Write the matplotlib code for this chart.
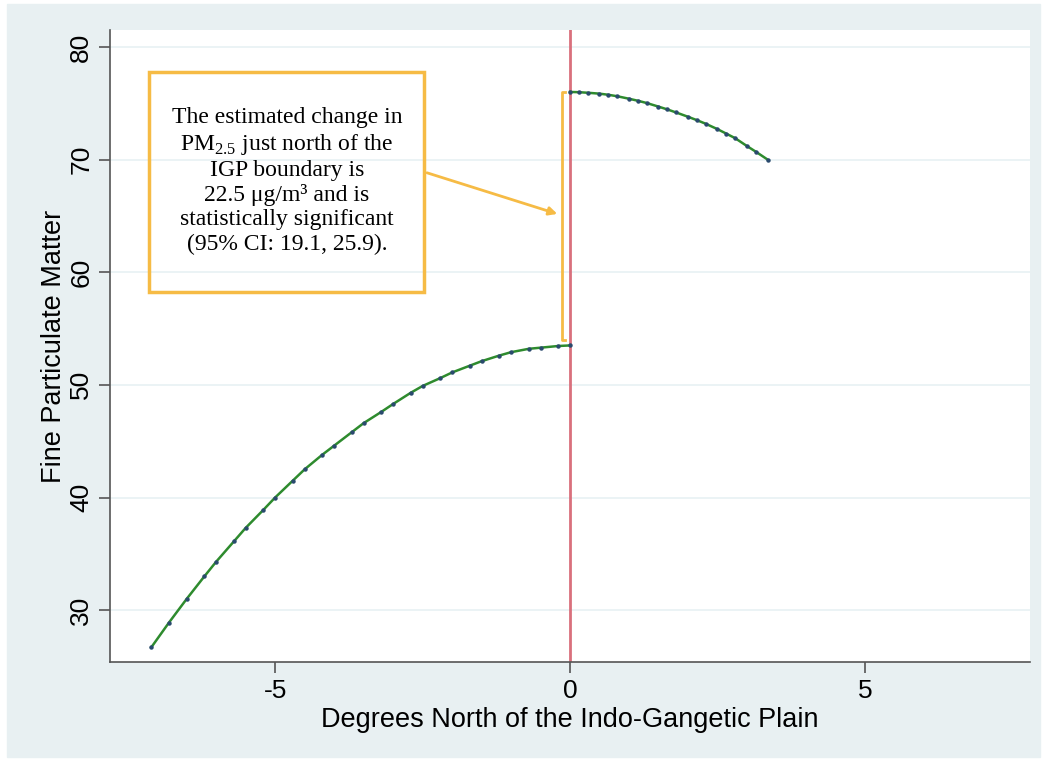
import numpy as np
import matplotlib.pyplot as plt
from matplotlib.patches import Rectangle

# fitted values south of the boundary (degrees north, PM2.5)
south_x = [-7.1, -6.8, -6.5, -6.2, -6.0, -5.7, -5.5, -5.2, -5.0, -4.7, -4.5, -4.2, -4.0,
           -3.7, -3.5, -3.2, -3.0, -2.7, -2.5, -2.2, -2.0, -1.7, -1.5, -1.2, -1.0,
           -0.7, -0.5, -0.2, 0.0]
south_y = [26.7, 28.9, 31.0, 33.0, 34.3, 36.1, 37.3, 38.9, 40.0, 41.5, 42.5, 43.8, 44.6,
           45.8, 46.6, 47.6, 48.3, 49.3, 49.9, 50.6, 51.1, 51.7, 52.1, 52.6, 52.9,
           53.2, 53.3, 53.45, 53.5]

# fitted values north of the boundary
north_x = [0.0, 0.15, 0.3, 0.5, 0.65, 0.8, 1.0, 1.15, 1.3, 1.5, 1.65, 1.8, 2.0, 2.15,
           2.3, 2.5, 2.65, 2.8, 3.0, 3.15, 3.35]
north_y = [76.0, 75.98, 75.93, 75.85, 75.75, 75.62, 75.4, 75.22, 75.02, 74.7, 74.45,
           74.18, 73.8, 73.5, 73.18, 72.7, 72.3, 71.9, 71.2, 70.7, 70.0]

jump_low, jump_high = 54.0, 76.0
box_text = ("The estimated change in\nPM$_\\mathrm{2.5}$ just north of the\nIGP boundary is\n"
            "22.5 \u03bcg/m\u00b3 and is\nstatistically significant\n(95% CI: 19.1, 25.9).")

plt.rcParams['font.family'] = ['Liberation Sans', 'DejaVu Sans']
plt.rcParams['mathtext.fontset'] = 'custom'
plt.rcParams['mathtext.rm'] = 'Liberation Serif'
plt.rcParams['axes.unicode_minus'] = False

orange = '#f6bb45'
fig = plt.figure(figsize=(10.47, 7.64), dpi=100, facecolor='white')
fig.patches.append(Rectangle((7 / 1047, 7 / 764), 1033 / 1047, 753 / 764,
                             transform=fig.transFigure, color='#e8f0f2', zorder=-10))
ax = fig.add_axes([110 / 1047, 1 - 662 / 764, 920 / 1047, 632 / 764])
ax.set_facecolor('white')

ax.set_xlim(-7.8, 7.8)
ax.set_ylim(25.4, 81.5)
ax.set_xticks([-5, 0, 5])
ax.set_yticks([30, 40, 50, 60, 70, 80])
ax.grid(axis='y', color='#e8f1f3', lw=1.2)
ax.set_axisbelow(True)
for s in ['top', 'right']:
    ax.spines[s].set_visible(False)
for s in ['left', 'bottom']:
    ax.spines[s].set_color('#555555')
    ax.spines[s].set_linewidth(1.2)
ax.tick_params(length=8, width=1.2, color='#555555', labelsize=19, pad=4)
for lab in ax.get_yticklabels():
    lab.set_rotation(90)
    lab.set_va('center')
ax.set_xlabel('Degrees North of the Indo-Gangetic Plain', fontsize=19.5, labelpad=3)
ax.set_ylabel('Fine Particulate Matter', fontsize=19.5, labelpad=2)

ax.axvline(0, color='#d9707c', lw=2, zorder=2)
for xs, ys in [(south_x, south_y), (north_x, north_y)]:
    ax.plot(xs, ys, color='#2e8b2e', lw=1.8, zorder=3,
            marker='o', ms=2.2, mfc='#2a4a6e', mec='#2a4a6e')

# bracket showing the jump
bx = -0.14
ax.plot([bx + 0.05, bx, bx, bx + 0.05], [jump_high, jump_high, jump_low, jump_low],
        color=orange, lw=2, zorder=2)

ax.add_patch(Rectangle((-7.14, 58.2), 4.67, 19.6, fill=False, ec=orange, lw=2.5, zorder=4))
ax.text(-4.8, 68.1, box_text, family='Liberation Serif', fontsize=17, ha='center',
        va='center', linespacing=1.2, zorder=5)
ax.annotate('', xy=(-0.17, 65.1), xytext=(-2.47, 68.9),
            arrowprops=dict(arrowstyle='-|>', color=orange, lw=2, mutation_scale=12))

fig.savefig('out.png', dpi=100, facecolor='white')
